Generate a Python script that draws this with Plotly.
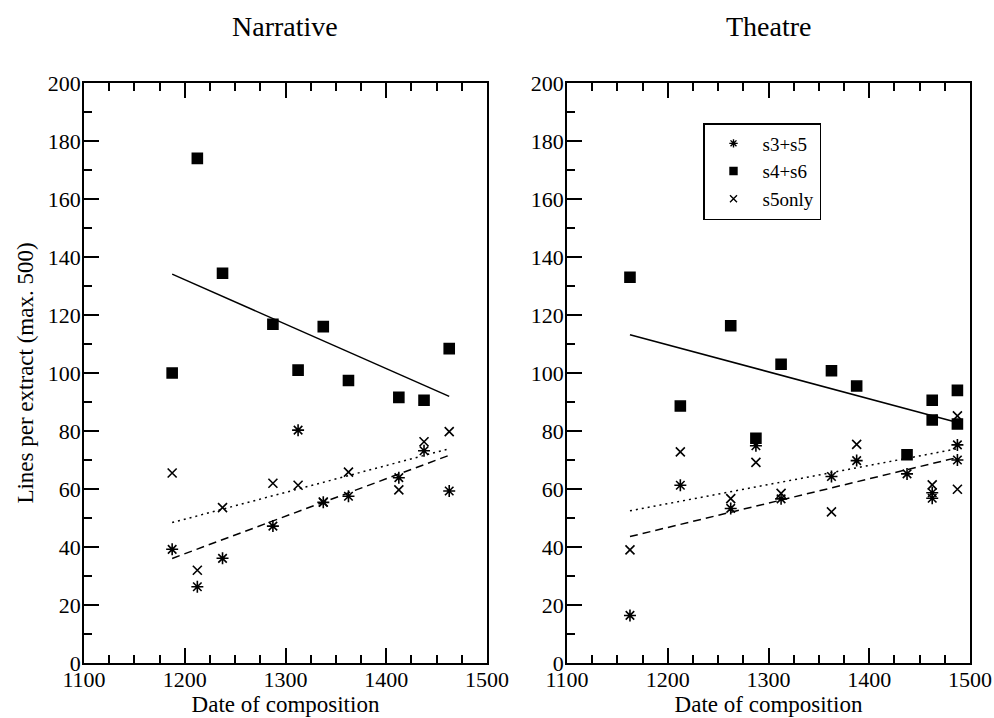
import numpy as np
import plotly.graph_objects as go

# ---------------- data ----------------
narr_years = [1187.5, 1212.5, 1237.5, 1287.5, 1312.5, 1337.5, 1362.5, 1412.5, 1437.5, 1462.5]
narr_s3s5 = [39.2, 26.3, 36.1, 47.2, 80.3, 55.4, 57.5, 63.9, 73.2, 59.3]
narr_s4s6 = [100.0, 174.0, 134.4, 116.8, 101.0, 116.0, 97.4, 91.6, 90.6, 108.4]
narr_s5only = [65.5, 32.0, 53.6, 62.0, 61.3, 55.5, 65.8, 59.7, 76.3, 79.8]

theat_years = [1162.5, 1212.5, 1262.5, 1287.5, 1312.5, 1362.5, 1387.5, 1437.5, 1462.5, 1462.5, 1487.5, 1487.5]
theat_s3s5 = [16.4, 61.3, 53.3, 74.9, 56.6, 64.3, 69.8, 65.2, 58.7, 56.8, 75.2, 70.0]
theat_s4s6 = [133.0, 88.6, 116.3, 77.5, 103.0, 100.8, 95.5, 71.8, 90.6, 83.8, 94.0, 82.4]
theat_s5only = [39.0, 72.8, 56.7, 69.2, 58.5, 52.1, 75.4, 72.0, 61.4, 84.0, 85.2, 59.9]

series_names = ["s3+s5", "s4+s6", "s5only"]
panel_titles = ["Narrative", "Theatre"]
x_title = "Date of composition"
y_title = "Lines per extract (max. 500)"

FONT = "Liberation Serif"
W, H = 994, 718

sym = {"s3+s5": "asterisk-open", "s4+s6": "square", "s5only": "x-thin-open"}
msize = {"s3+s5": 10, "s4+s6": 10, "s5only": 9}
dash = {"s3+s5": "8px,5px", "s4+s6": "solid", "s5only": "2px,4px"}

fig = go.Figure()

panels = [
    ("x", "y", narr_years, [narr_s3s5, narr_s4s6, narr_s5only]),
    ("x2", "y2", theat_years, [theat_s3s5, theat_s4s6, theat_s5only]),
]

for xa, ya, yrs, sers in panels:
    xs = np.array(yrs, dtype=float)
    for name, vals in zip(series_names, sers):
        vs = np.array(vals, dtype=float)
        fig.add_trace(go.Scatter(
            x=xs, y=vs, mode="markers", xaxis=xa, yaxis=ya, showlegend=False,
            marker=dict(symbol=sym[name], size=msize[name], color="black",
                        line=dict(color="black", width=1.6)),
            name=name))
        k, b = np.polyfit(xs, vs, 1)
        lx = np.array([xs.min(), xs.max()])
        fig.add_trace(go.Scatter(
            x=lx, y=k * lx + b, mode="lines", xaxis=xa, yaxis=ya, showlegend=False,
            line=dict(color="black", width=1.5, dash=dash[name]), hoverinfo="skip"))

# legend-only entries (smaller markers like the reference)
for name in series_names:
    fig.add_trace(go.Scatter(
        x=[None], y=[None], mode="markers", xaxis="x2", yaxis="y2", name=name,
        marker=dict(symbol=sym[name], size=7, color="black",
                    line=dict(color="black", width=1.4))))

def px_x(p):
    return p / W

def px_y(p):
    return (H - p) / H

ydom = [px_y(663), px_y(83)]
xdom1 = [px_x(84), px_x(487)]
xdom2 = [px_x(567), px_x(970)]

common_x = dict(range=[1100, 1500], tickmode="linear", tick0=1100, dtick=100,
                ticks="inside", ticklen=15, tickwidth=1.5, tickcolor="black",
                showline=True, linewidth=1.5, linecolor="black", mirror="ticks",
                showgrid=False, zeroline=False, automargin=False,
                ticklabelstandoff=-4,
                minor=dict(ticks="inside", ticklen=8, tickwidth=1.5, tickcolor="black",
                           dtick=25, tick0=1100, showgrid=False),
                tickfont=dict(family=FONT, size=22, color="black"),
                title=dict(text=x_title, font=dict(family=FONT, size=23, color="black"), standoff=0))
common_y = dict(range=[0, 200], tickmode="linear", tick0=0, dtick=20,
                ticks="inside", ticklen=15, tickwidth=1.5, tickcolor="black",
                showline=True, linewidth=1.5, linecolor="black", mirror=True,
                showgrid=False, zeroline=False, automargin=False,
                ticklabelstandoff=-3,
                minor=dict(ticks="inside", ticklen=8, tickwidth=1.5, tickcolor="black",
                           dtick=10, tick0=0, showgrid=False),
                tickfont=dict(family=FONT, size=22, color="black"))

fig.update_layout(
    width=W, height=H,
    margin=dict(l=0, r=0, t=0, b=0),
    paper_bgcolor="white", plot_bgcolor="white",
    font=dict(family=FONT, color="black"),
    xaxis=dict(domain=xdom1, anchor="y", **common_x),
    xaxis2=dict(domain=xdom2, anchor="y2", **common_x),
    yaxis=dict(domain=ydom, anchor="x",
               title=dict(text=y_title, font=dict(family=FONT, size=23, color="black"), standoff=8),
               **common_y),
    yaxis2=dict(domain=ydom, anchor="x2", **common_y),
    legend=dict(x=px_x(703), y=px_y(123), xanchor="left", yanchor="top",
                bordercolor="black", borderwidth=1.5, bgcolor="white",
                font=dict(family=FONT, size=19, color="black"),
                itemwidth=48),
    showlegend=True,
    annotations=[
        dict(text=panel_titles[0], x=(xdom1[0] + xdom1[1]) / 2, y=px_y(27), xref="paper", yref="paper",
             showarrow=False, font=dict(family=FONT, size=28, color="black"), xanchor="center", yanchor="middle"),
        dict(text=panel_titles[1], x=(xdom2[0] + xdom2[1]) / 2, y=px_y(27), xref="paper", yref="paper",
             showarrow=False, font=dict(family=FONT, size=28, color="black"), xanchor="center", yanchor="middle"),
    ],
)

fig.write_html("out.html")
